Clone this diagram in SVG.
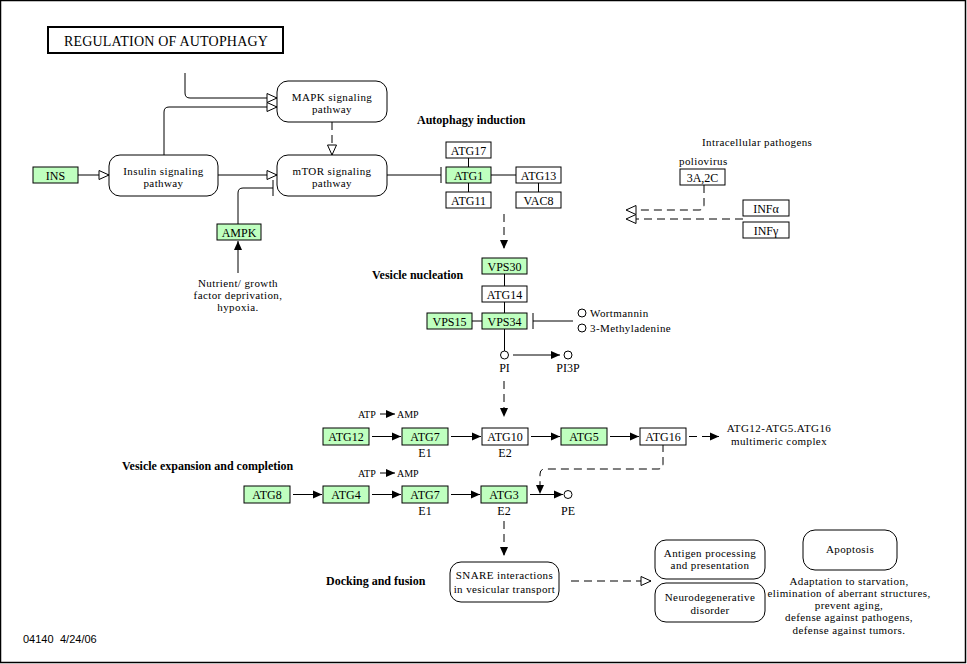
<svg xmlns="http://www.w3.org/2000/svg" width="967" height="664" viewBox="0 0 967 664">
<style>
text{font-family:"Liberation Serif","Times New Roman",serif;font-size:12px;fill:#000}
.c{text-anchor:middle}
.b{font-weight:bold}
.s{font-size:10px}
.m{font-size:11px;letter-spacing:0.4px}
.sans{font-family:"Liberation Sans",Arial,sans-serif;font-size:11px}
.g{fill:#bfffbf;stroke:#000;stroke-width:1}
.w{fill:#fff;stroke:#000;stroke-width:1}
.p{fill:#fff;stroke:#000;stroke-width:1}
.ln{fill:none;stroke:#000;stroke-width:1}
.d{fill:none;stroke:#000;stroke-width:1;stroke-dasharray:8,5}
.o{fill:#fff;stroke:#000;stroke-width:1}
</style>
<defs>
<marker id="open" markerUnits="userSpaceOnUse" markerWidth="12" markerHeight="12" refX="11" refY="5" orient="auto" overflow="visible">
<path d="M1,0.5 L11,5 L1,9.5 Z" fill="#fff" stroke="#000" stroke-width="1"/>
</marker>
<marker id="fill" markerUnits="userSpaceOnUse" markerWidth="10" markerHeight="10" refX="9" refY="4" orient="auto" overflow="visible">
<path d="M0,0 L9,4 L0,8 Z" fill="#000"/>
</marker>
</defs>
<rect x="0.5" y="0.5" width="965" height="662" fill="#fff" stroke="#000" stroke-width="1.5"/>

<g id="title"><rect x="48" y="27" width="235" height="26" fill="#fff" stroke="#000" stroke-width="2"/><text x="166" y="46" class="c" style="font-size:14px;letter-spacing:0.2px">REGULATION OF AUTOPHAGY</text></g>

<g id="connectors">
<path class="ln" d="M185,73 V93 Q185,98 190,98 H277" marker-end="url(#open)"/>
<path class="ln" d="M164,155 V112 Q164,107 169,107 H277" marker-end="url(#open)"/>
<path class="ln" d="M78,175 H109" marker-end="url(#open)"/>
<path class="ln" d="M218,175 H277" marker-end="url(#open)"/>
<path class="d" d="M332,122 V155" marker-end="url(#open)"/>
<path class="ln" d="M238,224 V193 Q238,188 243,188 H273 M273,180 V196"/>
<path class="ln" d="M238,273 V241" marker-end="url(#fill)"/>
<path class="ln" d="M387,175 H441 M441,167 V183"/>
<path class="ln" d="M468.5,157 V167 M468.5,183 V192 M491,175 H516 M538.5,183 V192"/>
<path class="d" d="M504,214 V249" marker-end="url(#fill)"/>
<path class="ln" d="M504.5,274 V286 M504.5,302 V313 M472,321 H482"/>
<path class="ln" d="M573,321 H533 M533,313 V329"/>
<path class="ln" d="M504.5,329 V351"/>
<path class="ln" d="M513,355 H560" marker-end="url(#fill)"/>
<path class="d" d="M504,381 V417" marker-end="url(#fill)"/>
<path class="ln" d="M380,414 H395" marker-end="url(#fill)"/>
<path class="ln" d="M380,473 H395" marker-end="url(#fill)"/>
<path class="ln" d="M372,436.5 H401" marker-end="url(#fill)"/>
<path class="ln" d="M451,436.5 H481" marker-end="url(#fill)"/>
<path class="ln" d="M531,436.5 H560" marker-end="url(#fill)"/>
<path class="ln" d="M610,436.5 H639" marker-end="url(#fill)"/>
<path class="d" d="M689,436.5 H719" marker-end="url(#fill)"/>
<path class="ln" d="M293,494.5 H322" marker-end="url(#fill)"/>
<path class="ln" d="M372,494.5 H401" marker-end="url(#fill)"/>
<path class="ln" d="M451,494.5 H480" marker-end="url(#fill)"/>
<path class="ln" d="M530,494.5 H563" marker-end="url(#fill)"/>
<path class="d" d="M663,444 V464 Q663,469 658,469 H545 Q540,469 540,474 V494" marker-end="url(#fill)"/>
<path class="d" d="M504,521 V556" marker-end="url(#fill)"/>
<path class="d" d="M571,581 H651" marker-end="url(#open)"/>
<path class="d" d="M704,185 V205 Q704,210 699,210 H626" marker-end="url(#open)"/>
<path class="d" d="M743,219 H626" marker-end="url(#open)"/>
</g>

<g id="ins"><rect class="g" x="33" y="167" width="45" height="16"/><text class="c" x="55.5" y="179.5">INS</text></g>
<g id="insulin"><rect class="p" x="109" y="155" width="109" height="41" rx="11"/><text class="c m" x="163.5" y="175">Insulin signaling</text><text class="c m" x="163.5" y="187">pathway</text></g>
<g id="mapk"><rect class="p" x="277" y="81" width="110" height="41" rx="11"/><text class="c m" x="332" y="101">MAPK signaling</text><text class="c m" x="332" y="113">pathway</text></g>
<g id="mtor"><rect class="p" x="277" y="155" width="110" height="41" rx="11"/><text class="c m" x="332" y="175">mTOR signaling</text><text class="c m" x="332" y="187">pathway</text></g>
<g id="ampk"><rect class="g" x="217" y="224" width="44" height="16"/><text class="c" x="239" y="236.5">AMPK</text></g>
<g id="nutrient"><text class="c m" x="238" y="287">Nutrient/ growth</text><text class="c m" x="238" y="299">factor deprivation,</text><text class="c m" x="238" y="311">hypoxia.</text></g>

<g id="lbl-induction"><text class="b" x="417" y="124">Autophagy induction</text></g>
<g id="atg17"><rect class="w" x="446" y="142" width="45" height="16"/><text class="c" x="468.5" y="154.5">ATG17</text></g>
<g id="atg1"><rect class="g" x="446" y="167" width="45" height="16"/><text class="c" x="468.5" y="179.5">ATG1</text></g>
<g id="atg11"><rect class="w" x="446" y="192" width="45" height="16"/><text class="c" x="468.5" y="204.5">ATG11</text></g>
<g id="atg13"><rect class="w" x="516" y="167" width="45" height="16"/><text class="c" x="538.5" y="179.5">ATG13</text></g>
<g id="vac8"><rect class="w" x="516" y="192" width="45" height="16"/><text class="c" x="538.5" y="204.5">VAC8</text></g>

<g id="pathogens"><text class="m" x="702" y="146">Intracellular pathogens</text><text class="m" x="679" y="165">poliovirus</text></g>
<g id="3a2c"><rect class="w" x="680" y="169" width="45" height="16"/><text class="c" x="702.5" y="181.5">3A,2C</text></g>
<g id="infa"><rect class="w" x="743" y="200" width="46" height="16"/><text class="c" x="766" y="212.5">INFα</text></g>
<g id="infg"><rect class="w" x="743" y="222" width="46" height="16"/><text class="c" x="766" y="234.5">INFγ</text></g>

<g id="lbl-nucleation"><text class="b" x="372" y="279">Vesicle nucleation</text></g>
<g id="vps30"><rect class="g" x="482" y="258" width="45" height="16"/><text class="c" x="504.5" y="270.5">VPS30</text></g>
<g id="atg14"><rect class="w" x="482" y="286" width="45" height="16"/><text class="c" x="504.5" y="298.5">ATG14</text></g>
<g id="vps34"><rect class="g" x="482" y="313" width="45" height="16"/><text class="c" x="504.5" y="325.5">VPS34</text></g>
<g id="vps15"><rect class="g" x="427" y="313" width="45" height="16"/><text class="c" x="449.5" y="325.5">VPS15</text></g>
<g id="wortmannin"><circle class="o" cx="582" cy="313" r="4"/><text class="m" x="590" y="317">Wortmannin</text></g>
<g id="methyladenine"><circle class="o" cx="582" cy="328" r="4"/><text class="m" x="590" y="332">3-Methyladenine</text></g>
<g id="pi"><circle class="o" cx="504.5" cy="355" r="4"/><text class="c" x="504.5" y="372">PI</text></g>
<g id="pi3p"><circle class="o" cx="568" cy="355" r="4"/><text class="c" x="568" y="372">PI3P</text></g>

<g id="atp1"><text class="s" x="358" y="418">ATP</text><text class="s" x="397" y="418">AMP</text></g>
<g id="atg12"><rect class="g" x="323" y="428" width="46" height="17"/><text class="c" x="346" y="441">ATG12</text></g>
<g id="atg7a"><rect class="g" x="402" y="428" width="46" height="17"/><text class="c" x="425" y="441">ATG7</text><text class="c" x="425" y="457">E1</text></g>
<g id="atg10"><rect class="w" x="482" y="428" width="46" height="17"/><text class="c" x="505" y="441">ATG10</text><text class="c" x="505" y="457">E2</text></g>
<g id="atg5"><rect class="g" x="561" y="428" width="46" height="17"/><text class="c" x="584" y="441">ATG5</text></g>
<g id="atg16"><rect class="w" x="640" y="428" width="46" height="17"/><text class="c" x="663" y="441">ATG16</text></g>
<g id="complex"><text class="c m" x="779" y="432">ATG12-ATG5.ATG16</text><text class="c m" x="779" y="445">multimeric complex</text></g>

<g id="lbl-expansion"><text class="b" x="122" y="470">Vesicle expansion and completion</text></g>
<g id="atp2"><text class="s" x="358" y="477">ATP</text><text class="s" x="397" y="477">AMP</text></g>
<g id="atg8"><rect class="g" x="244" y="486" width="46" height="17"/><text class="c" x="267" y="499">ATG8</text></g>
<g id="atg4"><rect class="g" x="323" y="486" width="46" height="17"/><text class="c" x="346" y="499">ATG4</text></g>
<g id="atg7b"><rect class="g" x="402" y="486" width="46" height="17"/><text class="c" x="425" y="499">ATG7</text><text class="c" x="425" y="515">E1</text></g>
<g id="atg3"><rect class="g" x="481" y="486" width="46" height="17"/><text class="c" x="504" y="499">ATG3</text><text class="c" x="504" y="515">E2</text></g>
<g id="pe"><circle class="o" cx="568" cy="494.5" r="4"/><text class="c" x="568" y="515">PE</text></g>

<g id="lbl-docking"><text class="b" x="326" y="585">Docking and fusion</text></g>
<g id="snare"><rect class="p" x="450" y="562" width="109" height="40" rx="11"/><text class="c m" x="504.5" y="579">SNARE interactions</text><text class="c m" x="504.5" y="593">in vesicular transport</text></g>
<g id="antigen"><rect class="p" x="655" y="540" width="110" height="39" rx="11"/><text class="c m" x="710" y="557">Antigen processing</text><text class="c m" x="710" y="569">and presentation</text></g>
<g id="neuro"><rect class="p" x="655" y="583" width="110" height="39" rx="11"/><text class="c m" x="710" y="601">Neurodegenerative</text><text class="c m" x="710" y="614">disorder</text></g>
<g id="apoptosis"><rect class="p" x="803" y="530" width="94" height="40" rx="12"/><text class="c m" x="850" y="553">Apoptosis</text></g>
<g id="outcomes"><text class="c m" x="849" y="585">Adaptation to starvation,</text><text class="c m" x="849" y="597">elimination of aberrant structures,</text><text class="c m" x="849" y="609">prevent aging,</text><text class="c m" x="849" y="621">defense against pathogens,</text><text class="c m" x="849" y="634">defense against tumors.</text></g>

<g id="footer"><text class="sans" x="23" y="643">04140</text><text class="sans" x="60" y="643">4/24/06</text></g>
</svg>
